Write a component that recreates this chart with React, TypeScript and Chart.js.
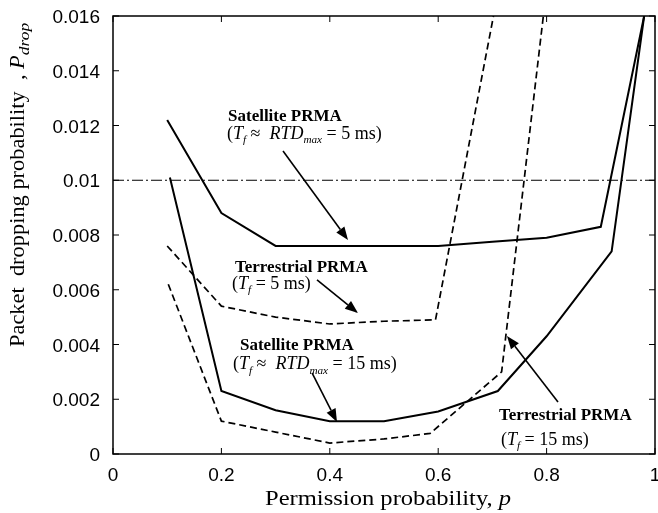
import React, { useEffect, useRef } from "react";
import { Chart, registerables } from "chart.js";

Chart.register(...registerables);

const W = 658;
const H = 513;

// ---- axes ----
const xTickValues = [0, 0.2, 0.4, 0.6, 0.8, 1];
const xTickLabels = ["0", "0.2", "0.4", "0.6", "0.8", "1"];
const yTickValues = [0, 0.002, 0.004, 0.006, 0.008, 0.01, 0.012, 0.014, 0.016];
const yTickLabels = ["0", "0.002", "0.004", "0.006", "0.008", "0.01", "0.012", "0.014", "0.016"];

// ---- series (permission probability p, packet dropping probability) ----
const pSat5 = [0.1, 0.2, 0.3, 0.4, 0.5, 0.6, 0.7, 0.8, 0.9, 0.98];
const sat5 = [0.0122, 0.0088, 0.0076, 0.0076, 0.0076, 0.0076, 0.00775, 0.0079, 0.0083, 0.016];

const pSat15 = [0.105, 0.2, 0.3, 0.4, 0.5, 0.6, 0.71, 0.8, 0.92, 0.98];
const sat15 = [0.0101, 0.0023, 0.0016, 0.0012, 0.0012, 0.00155, 0.0023, 0.0043, 0.0074, 0.016];

const pTer5 = [0.1, 0.2, 0.3, 0.4, 0.5, 0.595, 0.702];
const ter5 = [0.0076, 0.0054, 0.005, 0.00475, 0.00485, 0.0049, 0.016];

const pTer15 = [0.102, 0.2, 0.3, 0.4, 0.5, 0.585, 0.717, 0.794];
const ter15 = [0.0062, 0.0012, 0.0008, 0.0004, 0.00055, 0.00075, 0.003, 0.016];

const thresholdP = [0, 1];
const thresholdLevel = [0.01, 0.01];

// ---- annotations ----
type Seg = { t: string; it?: boolean; sub?: boolean };
const noteTitles = ["Satellite PRMA", "Terrestrial PRMA", "Satellite PRMA", "Terrestrial PRMA"];
const noteDetails: Seg[][] = [
  [{ t: "(" }, { t: "T", it: true }, { t: "f", it: true, sub: true }, { t: " \u2248  " }, { t: "RTD", it: true }, { t: "max", it: true, sub: true }, { t: " = 5 ms)" }],
  [{ t: "(" }, { t: "T", it: true }, { t: "f", it: true, sub: true }, { t: " = 5 ms)" }],
  [{ t: "(" }, { t: "T", it: true }, { t: "f", it: true, sub: true }, { t: " \u2248  " }, { t: "RTD", it: true }, { t: "max", it: true, sub: true }, { t: " = 15 ms)" }],
  [{ t: "(" }, { t: "T", it: true }, { t: "f", it: true, sub: true }, { t: " = 15 ms)" }],
];
// anchors in data units [p, Pdrop]: left edge / vertical centre
const noteTitleAt = [[0.2122, 0.01238], [0.2251, 0.00687], [0.2343, 0.00402], [0.7122, 0.00146]];
const noteDetailAt = [[0.2103, 0.01173], [0.2196, 0.00625], [0.2214, 0.00332], [0.7159, 0.00055]];
const arrowFrom = [[0.3137, 0.01107], [0.3764, 0.00636], [0.3672, 0.00296], [0.821, 0.0019]];
const arrowTo = [[0.4336, 0.00782], [0.452, 0.00515], [0.4133, 0.00117], [0.7269, 0.00431]];

const yTitle: Seg[] = [{ t: "Packet  dropping probability  , " }, { t: "P", it: true }, { t: "drop", it: true, sub: true }];
const xTitle: Seg[] = [{ t: "Permission probability, " }, { t: "p", it: true }];

const SERIF = '"Liberation Serif", "Times New Roman", serif';
const SANS = '"Liberation Sans", Arial, sans-serif';

function drawRich(ctx: CanvasRenderingContext2D, segs: Seg[], size: number, bold: boolean, subScale = 0.7) {
  let cx = 0;
  for (const s of segs) {
    const fs = s.sub ? size * subScale : size;
    ctx.font = `${s.it ? "italic " : ""}${bold && !s.sub ? "bold " : ""}${fs}px ${SERIF}`;
    ctx.fillText(s.t, cx, s.sub ? size * 0.25 : 0);
    cx += ctx.measureText(s.t).width;
  }
}

function drawArrow(ctx: CanvasRenderingContext2D, x1: number, y1: number, x2: number, y2: number) {
  const ang = Math.atan2(y2 - y1, x2 - x1);
  const L = 13;
  const hw = 5;
  const c = Math.cos(ang);
  const s = Math.sin(ang);
  const bx = x2 - L * c;
  const by = y2 - L * s;
  ctx.beginPath();
  ctx.moveTo(x1, y1);
  ctx.lineTo(bx, by);
  ctx.lineWidth = 1.6;
  ctx.stroke();
  ctx.beginPath();
  ctx.moveTo(x2, y2);
  ctx.lineTo(bx - hw * s, by + hw * c);
  ctx.lineTo(bx + hw * s, by - hw * c);
  ctx.closePath();
  ctx.fill();
}

const overlay = {
  id: "overlay",
  afterDatasetsDraw(chart: any) {
    const { ctx, chartArea: a } = chart;
    const xs = chart.scales.x;
    const ys = chart.scales.y;
    ctx.save();
    ctx.strokeStyle = "#000";
    ctx.fillStyle = "#000";

    // frame
    ctx.lineWidth = 1.5;
    ctx.strokeRect(a.left, a.top, a.right - a.left, a.bottom - a.top);

    // inward ticks on all four sides
    ctx.lineWidth = 1;
    ctx.beginPath();
    xTickValues.forEach((v) => {
      const px = xs.getPixelForValue(v);
      ctx.moveTo(px, a.bottom);
      ctx.lineTo(px, a.bottom - 6);
      ctx.moveTo(px, a.top);
      ctx.lineTo(px, a.top + 6);
    });
    yTickValues.forEach((v) => {
      const py = ys.getPixelForValue(v);
      ctx.moveTo(a.left, py);
      ctx.lineTo(a.left + 6, py);
      ctx.moveTo(a.right, py);
      ctx.lineTo(a.right - 6, py);
    });
    ctx.stroke();

    // tick labels
    ctx.font = `19px ${SANS}`;
    ctx.textBaseline = "alphabetic";
    ctx.textAlign = "right";
    yTickValues.forEach((v, i) => {
      const py = ys.getPixelForValue(v);
      ctx.fillText(yTickLabels[i], a.left - 13, py + 7);
    });
    ctx.textAlign = "center";
    xTickValues.forEach((v, i) => {
      const px = xs.getPixelForValue(v);
      ctx.fillText(xTickLabels[i], px, a.bottom + 27);
    });

    // axis titles
    ctx.textAlign = "left";
    ctx.save();
    ctx.translate(24, 347);
    ctx.rotate(-Math.PI / 2);
    ctx.scale(1.12, 1);
    drawRich(ctx, yTitle, 20, false, 0.78);
    ctx.restore();

    ctx.save();
    ctx.translate(265, a.bottom + 51);
    ctx.scale(1.17, 1);
    drawRich(ctx, xTitle, 21, false);
    ctx.restore();

    // annotations
    noteTitles.forEach((t, i) => {
      const tx = xs.getPixelForValue(noteTitleAt[i][0]);
      const ty = ys.getPixelForValue(noteTitleAt[i][1]);
      ctx.save();
      ctx.translate(tx, ty + 6);
      drawRich(ctx, [{ t }], 17, true);
      ctx.restore();
      const dx = xs.getPixelForValue(noteDetailAt[i][0]);
      const dy = ys.getPixelForValue(noteDetailAt[i][1]);
      ctx.save();
      ctx.translate(dx, dy + 6);
      drawRich(ctx, noteDetails[i], 18, false, 0.62);
      ctx.restore();
      drawArrow(
        ctx,
        xs.getPixelForValue(arrowFrom[i][0]),
        ys.getPixelForValue(arrowFrom[i][1]),
        xs.getPixelForValue(arrowTo[i][0]),
        ys.getPixelForValue(arrowTo[i][1])
      );
    });

    ctx.restore();
  },
};

const pts = (ps: number[], vs: number[]) => ps.map((p, i) => ({ x: p, y: vs[i] }));

export default function App() {
  const ref = useRef<HTMLCanvasElement>(null);
  useEffect(() => {
    const chart = new Chart(ref.current as HTMLCanvasElement, {
      type: "line",
      data: {
        datasets: [
          { data: pts(thresholdP, thresholdLevel), borderColor: "#000", borderWidth: 1, borderDash: [11, 3, 2, 3] },
          { data: pts(pSat5, sat5), borderColor: "#000", borderWidth: 2 },
          { data: pts(pSat15, sat15), borderColor: "#000", borderWidth: 2 },
          { data: pts(pTer5, ter5), borderColor: "#000", borderWidth: 1.7, borderDash: [7, 4] },
          { data: pts(pTer15, ter15), borderColor: "#000", borderWidth: 1.7, borderDash: [7, 4] },
        ] as any,
      },
      options: {
        animation: false,
        responsive: false,
        devicePixelRatio: 1,
        layout: { padding: { top: 16, right: 3, left: 0, bottom: 0 } },
        elements: { point: { radius: 0 }, line: { tension: 0, fill: false } },
        plugins: { legend: { display: false }, tooltip: { enabled: false } },
        scales: {
          x: {
            type: "linear",
            min: 0,
            max: 1,
            grid: { display: false, drawTicks: false },
            border: { display: false },
            ticks: { display: false },
            afterFit: (s: any) => {
              s.height = 59;
            },
          },
          y: {
            type: "linear",
            min: 0,
            max: 0.016,
            grid: { display: false, drawTicks: false },
            border: { display: false },
            ticks: { display: false },
            afterFit: (s: any) => {
              s.width = 113;
            },
          },
        },
      } as any,
      plugins: [overlay],
    });
    return () => chart.destroy();
  }, []);
  return (
    <div style={{ position: "fixed", left: 0, top: 0, width: W, height: H, background: "#fff" }}>
      <canvas ref={ref} width={W} height={H} style={{ display: "block", width: W, height: H }} />
    </div>
  );
}
